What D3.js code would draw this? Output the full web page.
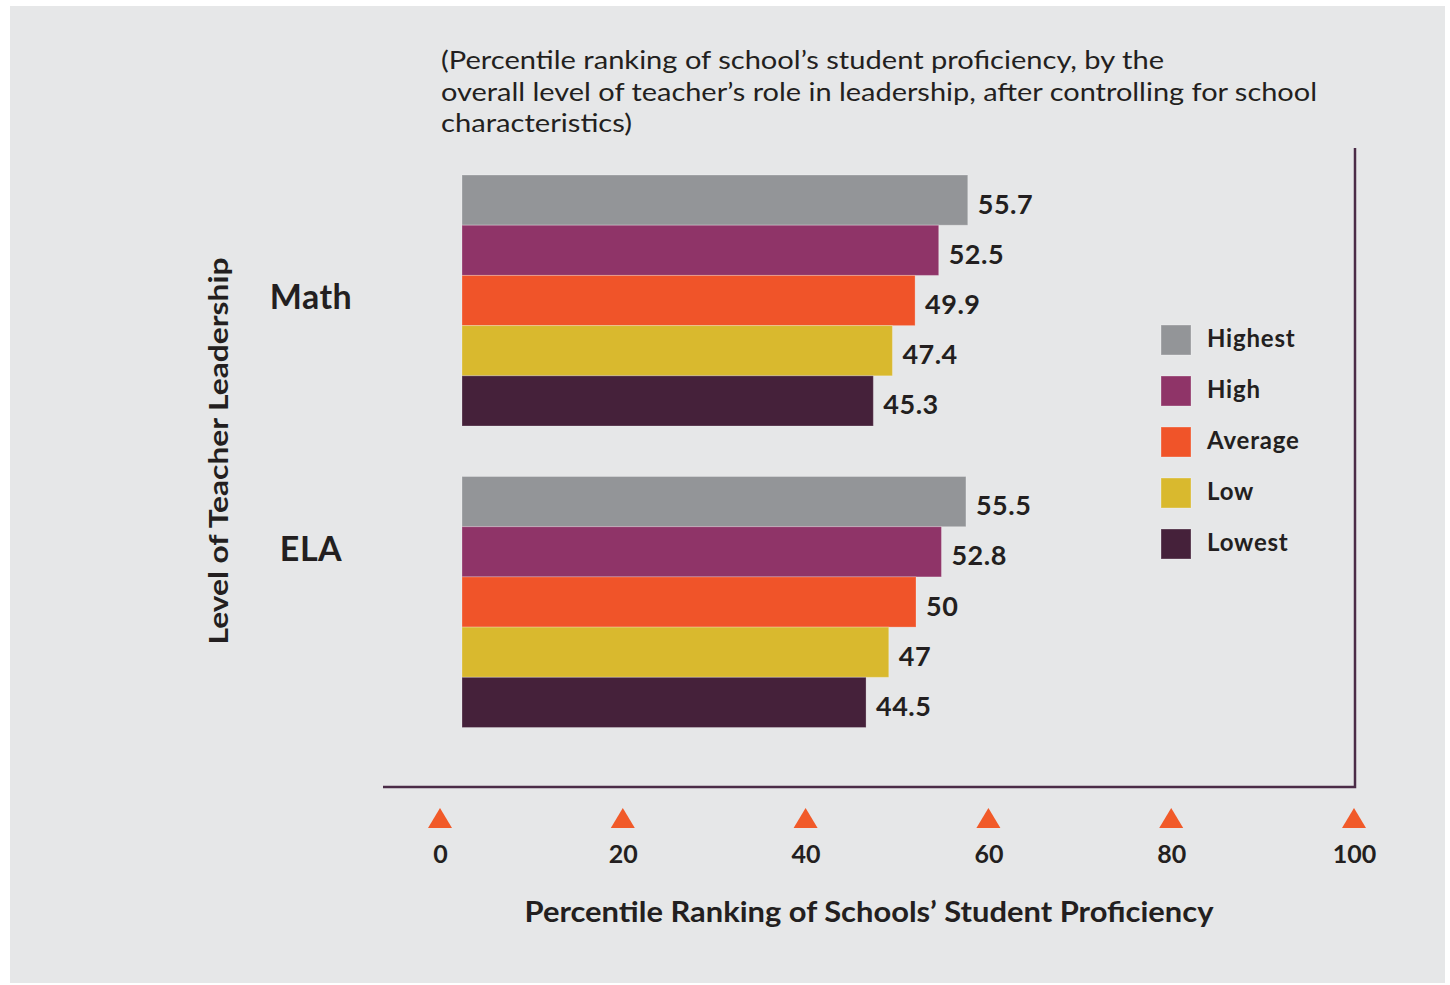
<!DOCTYPE html>
<html>
<head>
<meta charset="utf-8">
<script src="https://cdn.jsdelivr.net/npm/d3@7"></script>
<style>
  html, body { margin: 0; padding: 0; background: #ffffff; }
  svg { display: block; }
</style>
</head>
<body>
<svg id="chart" width="1450" height="985"></svg>
<script>
// ---- data ----
const subjects = ["Math", "ELA"];
const levels = ["Highest", "High", "Average", "Low", "Lowest"];
const mathValues = [55.7, 52.5, 49.9, 47.4, 45.3];
const elaValues = [55.5, 52.8, 50, 47, 44.5];
const valueLabels = [["55.7", "52.5", "49.9", "47.4", "45.3"], ["55.5", "52.8", "50", "47", "44.5"]];
const tickValues = [0, 20, 40, 60, 80, 100];
const subtitleLines = [
  "(Percentile ranking of school\u2019s student proficiency, by the",
  "overall level of teacher\u2019s role in leadership, after controlling for school",
  "characteristics)"
];
const xTitle = "Percentile Ranking of Schools\u2019 Student Proficiency";
const yTitle = "Level of Teacher Leadership";

// ---- styles ----
const colors = ["#939598", "#8f3468", "#f05429", "#d9b92e", "#45213a"];
const ink = "#231f20";
const axisColor = "#4b2c47";
const font = "Lato, 'Noto Sans', sans-serif";

const svg = d3.select("#chart");
svg.append("rect").attr("x", 10).attr("y", 6).attr("width", 1435).attr("height", 977).attr("fill", "#e6e7e8");

const valuesBySubject = [mathValues, elaValues];
const rows = [];
subjects.forEach((s, i) => levels.forEach((l, j) => rows.push({subject: s, level: l, value: valuesBySubject[i][j], label: valueLabels[i][j], color: colors[j]})));

// scales
const xBar = d3.scaleLinear().domain([0, 100]).range([462, 1370]);
const xTick = d3.scaleLinear().domain([0, 100]).range([440, 1354]);
const yGroup = d3.scaleBand().domain(subjects).range([175, 727.5]).paddingInner(0.1675).paddingOuter(0);
const yInner = d3.scaleBand().domain(levels).range([0, yGroup.bandwidth()]).padding(0);

// subtitle
const sub = svg.append("g").attr("font-family", font).attr("font-weight", 400).attr("font-size", 25).attr("fill", ink);
const subWidths = [723, 876, 191];
subtitleLines.forEach((t, i) => {
  sub.append("text").attr("x", 441).attr("y", 69 + i * 31.5).text(t)
    .attr("textLength", subWidths[i]).attr("lengthAdjust", "spacingAndGlyphs");
});

// bars
const bars = svg.append("g");
bars.selectAll("rect").data(rows).join("rect")
  .attr("x", xBar(0))
  .attr("y", d => yGroup(d.subject) + yInner(d.level))
  .attr("width", d => xBar(d.value) - xBar(0))
  .attr("height", yInner.bandwidth())
  .attr("fill", d => d.color)
  .attr("stroke", "rgba(255,255,255,0.25)")
  .attr("stroke-width", 1);

// value labels
bars.selectAll("text").data(rows).join("text")
  .attr("x", d => xBar(d.value) + 10)
  .attr("y", d => yGroup(d.subject) + yInner(d.level) + yInner.bandwidth() / 2 + 3)
  .attr("dominant-baseline", "central")
  .attr("font-family", font).attr("font-weight", 700).attr("font-size", 27)
  .attr("letter-spacing", 0.5)
  .attr("fill", ink)
  .text(d => d.label);

// subject labels
const subjDy = {Math: -5, ELA: -55};
svg.append("g").selectAll("text").data(subjects).join("text")
  .attr("x", 311)
  .attr("y", d => yGroup(d) + yGroup.bandwidth() / 2 + subjDy[d])
  .attr("text-anchor", "middle").attr("dominant-baseline", "central")
  .attr("font-family", font).attr("font-weight", 700).attr("font-size", 34)
  .attr("letter-spacing", 0.5)
  .attr("fill", ink)
  .text(d => d);

// y title
svg.append("text")
  .attr("transform", "translate(217,451) rotate(-90)")
  .attr("text-anchor", "middle").attr("dominant-baseline", "central")
  .attr("font-family", font).attr("font-weight", 700).attr("font-size", 27)
  .attr("fill", ink)
  .attr("textLength", 387).attr("lengthAdjust", "spacingAndGlyphs")
  .text(yTitle);

// axis frame lines
svg.append("path")
  .attr("d", `M383,787 H${xTick(100) + 1} V148`)
  .attr("fill", "none").attr("stroke", axisColor).attr("stroke-width", 2.5);

// x axis ticks
const axisG = svg.append("g").attr("transform", "translate(0,853)")
  .call(d3.axisBottom(xTick).tickValues(tickValues).tickSize(0).tickPadding(0).tickFormat(d3.format("d")));
axisG.select(".domain").remove();
axisG.selectAll("text")
  .attr("dy", null).attr("y", 0)
  .attr("dominant-baseline", "central")
  .attr("font-family", font).attr("font-weight", 700).attr("font-size", 25)
  .attr("fill", ink);

// triangles
svg.append("g").selectAll("path").data(tickValues).join("path")
  .attr("transform", d => `translate(${xTick(d)},818)`)
  .attr("d", "M-12,10 L0,-10 L12,10 Z")
  .attr("fill", "#f15a29");

// x title
svg.append("text")
  .attr("x", 869).attr("y", 911)
  .attr("text-anchor", "middle").attr("dominant-baseline", "central")
  .attr("font-family", font).attr("font-weight", 700).attr("font-size", 28)
  .attr("fill", ink)
  .attr("textLength", 689).attr("lengthAdjust", "spacingAndGlyphs")
  .text(xTitle);

// legend
const leg = svg.append("g").selectAll("g").data(levels).join("g")
  .attr("transform", (d, i) => `translate(1161,${325 + i * 51})`);
leg.append("rect").attr("width", 30).attr("height", 30)
  .attr("fill", (d, i) => colors[i])
  .attr("stroke", "rgba(255,255,255,0.3)").attr("stroke-width", 1);
leg.append("text").attr("x", 46).attr("y", 12)
  .attr("dominant-baseline", "central")
  .attr("font-family", font).attr("font-weight", 700).attr("font-size", 24)
  .attr("letter-spacing", 0.8)
  .attr("fill", ink)
  .text(d => d);
</script>
</body>
</html>
